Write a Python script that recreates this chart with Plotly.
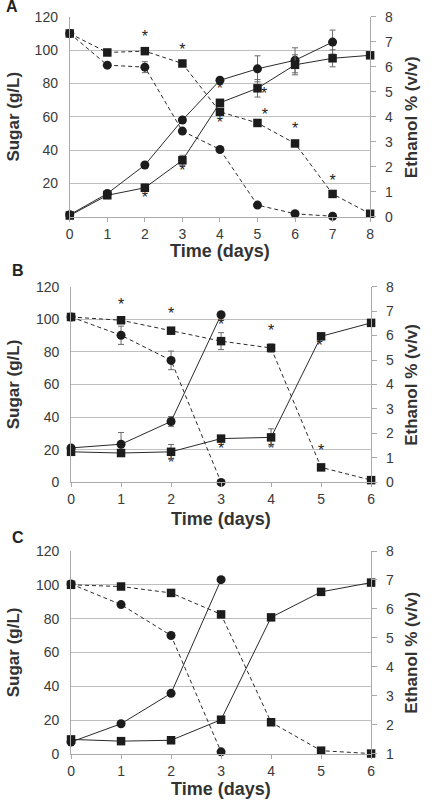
import plotly.graph_objects as go

# ---------------- DATA ----------------
# Panel A (days 0-8)
A_days_c = [0, 1, 2, 3, 4, 5, 6, 7]
A_sugar_c = [110, 91, 89.8, 51.4, 40.4, 7, 1.8, 0.3]
A_sugar_c_err = [0, 0, 3.3, 0, 0, 0, 0, 0]
A_eth_c = [0.08, 0.93, 2.07, 3.87, 5.46, 5.92, 6.26, 6.99]
A_eth_c_err = [0, 0, 0, 0, 0, 0.52, 0.5, 0.48]
A_days_s = [0, 1, 2, 3, 4, 5, 6, 7, 8]
A_sugar_s = [110, 98.6, 99.4, 92, 63, 56.3, 44, 13.7, 1.8]
A_sugar_s_err = [0, 0, 1, 0, 1.5, 1.5, 1.5, 0, 0]
A_eth_s = [0.05, 0.86, 1.16, 2.26, 4.56, 5.14, 6.08, 6.34, 6.46]
A_eth_s_err = [0, 0, 0.15, 0.2, 0, 0.35, 0.4, 0.34, 0]
A_star_x = [2, 3, 4, 4, 5.18, 5.2, 6, 7, 2, 3]
A_star_y = [107, 99.4, 75.9, 55.9, 73, 60.6, 51.8, 20.6, 10.6, 27]

# Panel B (days 0-6)
B_days_c = [0, 1, 2, 3]
B_sugar_c = [101.4, 90.2, 74.8, 0]
B_sugar_c_err = [0, 5.6, 5.7, 0]
B_eth_c = [1.41, 1.56, 2.49, 6.85]
B_eth_c_err = [0, 0.48, 0.2, 0]
B_days_s = [0, 1, 2, 3, 4, 5, 6]
B_sugar_s = [101.4, 99.4, 93, 86.6, 82.4, 9.2, 1.4]
B_sugar_s_err = [0, 1, 0, 5.2, 2.5, 0, 0]
B_eth_s = [1.25, 1.2, 1.25, 1.79, 1.84, 5.97, 6.52]
B_eth_s_err = [0, 0, 0.3, 0, 0.35, 0, 0]
B_star_x = [1, 2, 3, 4, 4.97, 2, 3, 4, 5]
B_star_y = [108, 102.6, 96, 92, 83, 11.2, 19.8, 19.8, 18.8]

# Panel C (days 0-6)
C_days_c = [0, 1, 2, 3]
C_sugar_c = [100.5, 88.3, 70, 1.2]
C_eth_c = [1.41, 2.04, 3.09, 7.01]
C_days_s = [0, 1, 2, 3, 4, 5, 6]
C_sugar_s = [100, 99, 95.2, 82.5, 18.7, 1.9, 0.2]
C_eth_s = [1.5, 1.44, 1.47, 2.18, 5.71, 6.59, 6.91]

x_ticks_A = [0, 1, 2, 3, 4, 5, 6, 7, 8]
x_ticks_BC = [0, 1, 2, 3, 4, 5, 6]
sugar_ticks_A = [20, 40, 60, 80, 100, 120]
sugar_ticks_BC = [0, 20, 40, 60, 80, 100, 120]
eth_ticks_AB = [0, 1, 2, 3, 4, 5, 6, 7, 8]
eth_ticks_C = [1, 2, 3, 4, 5, 6, 7, 8]

# ---------------- STYLE ----------------
FONT = "Liberation Sans, Arial, sans-serif"
MK = "#1c1c1c"
LN = "#2a2a2a"
GRID = "#bebebe"
AXC = "#aaaaaa"
TICKC = "#3a3a3a"
TITLEC = "#333333"

fig = go.Figure()


def err(vals):
    return dict(type="data", array=vals, visible=True, color="#6a6a6a",
                thickness=1, width=3)


def add(x, y, xa, ya, symbol, dash, e=None):
    fig.add_trace(go.Scatter(
        x=x, y=y, xaxis=xa, yaxis=ya, mode="lines+markers",
        line=dict(color=LN, width=1, dash=dash),
        marker=dict(symbol=symbol, size=9 if symbol == "circle" else 8.5, color=MK,
                    line=dict(width=0)),
        error_y=err(e) if e is not None else None,
        cliponaxis=False, showlegend=False, hoverinfo="skip"))


# Panel A
add(A_days_c, A_sugar_c, "x", "y", "circle", "4px,3px", A_sugar_c_err)
add(A_days_s, A_sugar_s, "x", "y", "square", "4px,3px", A_sugar_s_err)
add(A_days_c, A_eth_c, "x", "y2", "circle", "solid", A_eth_c_err)
add(A_days_s, A_eth_s, "x", "y2", "square", "solid", A_eth_s_err)
# Panel B
add(B_days_c, B_sugar_c, "x2", "y3", "circle", "4px,3px", B_sugar_c_err)
add(B_days_s, B_sugar_s, "x2", "y3", "square", "4px,3px", B_sugar_s_err)
add(B_days_c, B_eth_c, "x2", "y4", "circle", "solid", B_eth_c_err)
add(B_days_s, B_eth_s, "x2", "y4", "square", "solid", B_eth_s_err)
# Panel C
add(C_days_c, C_sugar_c, "x3", "y5", "circle", "4px,3px")
add(C_days_s, C_sugar_s, "x3", "y5", "square", "4px,3px")
add(C_days_c, C_eth_c, "x3", "y6", "circle", "solid")
add(C_days_s, C_eth_s, "x3", "y6", "square", "solid")


# significance asterisks (drawn as text on the sugar axis of each panel)
def stars(xs, ys, xa, ya):
    fig.add_trace(go.Scatter(
        x=xs, y=ys, xaxis=xa, yaxis=ya, mode="text", text=["*"] * len(xs),
        textposition="middle center",
        textfont=dict(family=FONT, size=16, color="#222222"),
        cliponaxis=False, showlegend=False, hoverinfo="skip"))


stars(A_star_x, A_star_y, "x", "y")
stars(B_star_x, B_star_y, "x2", "y3")

tickfont = dict(family=FONT, size=14, color=TICKC)

xdomA = [67 / 434, 373 / 434]
xdomBC = [68.3 / 434, 374 / 434]
ydomA = [1 - 213 / 806, 1 - 9 / 806]
ydomB = [1 - 484 / 806, 1 - 284.3 / 806]
ydomC = [1 - 761 / 806, 1 - 554 / 806]


def xaxis(dom, anchor, rng, ticks):
    return dict(domain=dom, anchor=anchor, range=rng, tickvals=ticks,
                showgrid=False, zeroline=False, showline=True, linecolor=AXC,
                linewidth=1, ticks="outside", ticklen=4, tickcolor=AXC,
                tickfont=tickfont, fixedrange=True)


def yleft(dom, anchor, ticks):
    return dict(domain=dom, anchor=anchor, range=[0, 120], tickvals=ticks,
                showgrid=True, gridcolor=GRID, gridwidth=1, zeroline=False,
                showline=True, linecolor=AXC, linewidth=1, ticks="",
                tickfont=tickfont, ticklabelstandoff=8, fixedrange=True)


def yright(dom, anchor, overlay, rng, ticks):
    return dict(domain=dom, anchor=anchor, overlaying=overlay, side="right",
                range=rng, tickvals=ticks, showgrid=False, zeroline=False,
                showline=True, linecolor=AXC, linewidth=1, ticks="outside",
                ticklen=5, tickcolor=AXC, tickfont=tickfont,
                ticklabelstandoff=6, fixedrange=True)


annotations = []

titlefont = dict(family=FONT, size=18, color=TITLEC)


def titles(xdom, ydom, xt_y):
    ymid = (ydom[0] + ydom[1]) / 2
    annotations.append(dict(x=(xdom[0] + xdom[1]) / 2, y=xt_y, xref="paper",
                            yref="paper", text="<b>Time (days)</b>",
                            xanchor="center", yanchor="middle",
                            showarrow=False, font=titlefont))
    annotations.append(dict(x=10 / 434, y=ymid, xref="paper", yref="paper",
                            text="<b>Sugar (g/L)</b>", textangle=-90,
                            xanchor="center", yanchor="middle",
                            showarrow=False, font=dict(family=FONT, size=17, color=TITLEC)))
    annotations.append(dict(x=415 / 434, y=ymid, xref="paper", yref="paper",
                            text="<b>Ethanol % (v/v)</b>", textangle=-90,
                            xanchor="center", yanchor="middle",
                            showarrow=False, font=dict(family=FONT, size=17, color=TITLEC)))


titles(xdomA, ydomA, 1 - 248 / 806)
titles(xdomBC, ydomB, 1 - 521.7 / 806)
titles(xdomBC, ydomC, 1 - 796.7 / 806)

letterfont = dict(family=FONT, size=16, color="#222222")
for lt, lx, ly in [("A", 8, -2), ("B", 14, 267.5), ("C", 14, 540)]:
    annotations.append(dict(x=lx / 434, y=1 - ly / 806, xref="paper", yref="paper",
                            text="<b>%s</b>" % lt, showarrow=False,
                            xanchor="center", yanchor="middle", font=letterfont))

fig.update_layout(
    width=434, height=806, margin=dict(l=0, r=0, t=0, b=0),
    paper_bgcolor="white", plot_bgcolor="white",
    xaxis=xaxis(xdomA, "y", [0, 8], x_ticks_A),
    xaxis2=xaxis(xdomBC, "y3", [0, 6], x_ticks_BC),
    xaxis3=xaxis(xdomBC, "y5", [0, 6], x_ticks_BC),
    yaxis=yleft(ydomA, "x", sugar_ticks_A),
    yaxis2=yright(ydomA, "x", "y", [0, 8], eth_ticks_AB),
    yaxis3=yleft(ydomB, "x2", sugar_ticks_BC),
    yaxis4=yright(ydomB, "x2", "y3", [0, 8], eth_ticks_AB),
    yaxis5=yleft(ydomC, "x3", sugar_ticks_BC),
    yaxis6=yright(ydomC, "x3", "y5", [1, 8], eth_ticks_C),
    annotations=annotations,
)

fig.write_html("out.html")
